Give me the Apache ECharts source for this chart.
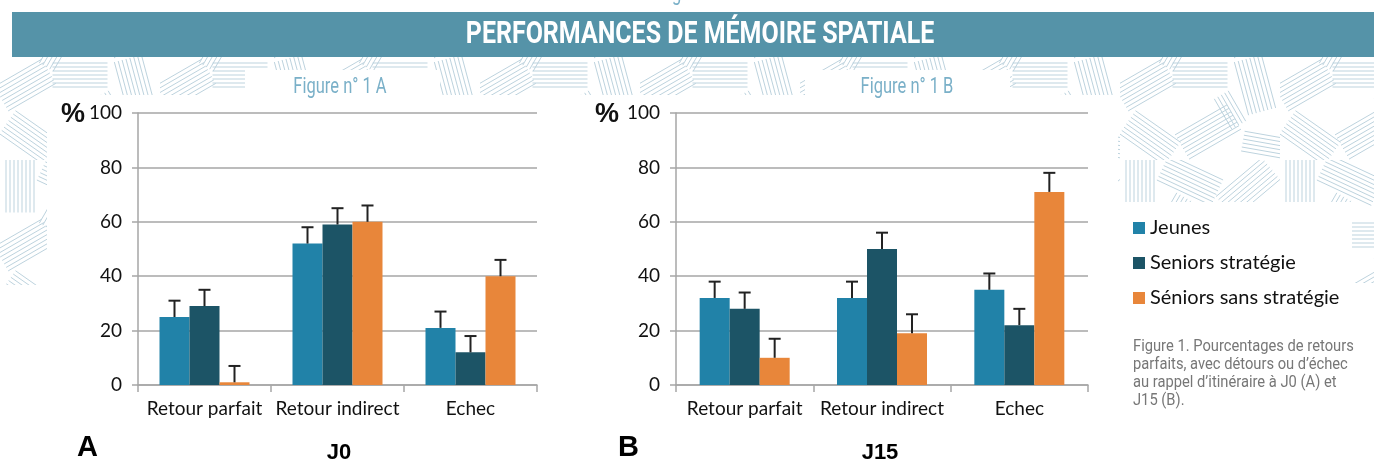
<!DOCTYPE html>
<html>
<head>
<meta charset="utf-8">
<script src="https://cdn.jsdelivr.net/npm/echarts@6/dist/echarts.min.js"></script>
<style>
    html, body { margin: 0; padding: 0; background: #fff; }
    #chart { width: 1374px; height: 475px; }
</style>
</head>
<body>
<div id="chart"></div>
<script>
// donnees
var categories = ['Retour parfait', 'Retour indirect', 'Echec'];
var groups = ['Jeunes', 'Seniors stratégie', 'Séniors sans stratégie'];
var yTicks = [0, 20, 40, 60, 80, 100];

// J0 (figure A)
var j0Jeunes = [25, 52, 21];
var j0Seniors = [29, 59, 12];
var j0SansStrat = [1, 60, 40];
var j0JeunesErr = [31, 58, 27];
var j0SeniorsErr = [35, 65, 18];
var j0SansStratErr = [7, 66, 46];

// J15 (figure B)
var j15Jeunes = [32, 32, 35];
var j15Seniors = [28, 50, 22];
var j15SansStrat = [10, 19, 71];
var j15JeunesErr = [38, 38, 41];
var j15SeniorsErr = [34, 56, 28];
var j15SansStratErr = [17, 26, 78];

var colors = ['#2182a8', '#1c5466', '#e8863a'];
var gridCol = '#a6a6a6';
var barW = 30;
var condFont = 'Roboto';

// motif de hachures pour le fond decoratif
function makePattern() {
    var c = document.createElement('canvas');
    c.width = 160; c.height = 160;
    var ctx = c.getContext('2d');
    ctx.fillStyle = '#fff';
    ctx.fillRect(0, 0, 160, 160);
    ctx.strokeStyle = '#bdd3de';
    ctx.lineWidth = 1;
    function hatch(cx, cy, len, deg, n, gap) {
        var a = deg * Math.PI / 180;
        var dx = Math.cos(a), dy = Math.sin(a);
        for (var k = 0; k < n; k++) {
            var o = (k - (n - 1) / 2) * gap;
            var px = cx - dy * o, py = cy + dx * o;
            ctx.beginPath();
            ctx.moveTo(px - dx * len / 2, py - dy * len / 2);
            ctx.lineTo(px + dx * len / 2, py + dy * len / 2);
            ctx.stroke();
        }
    }
    hatch(20, 25, 55, 90, 8, 4);
    hatch(70, 20, 60, 25, 8, 4);
    hatch(128, 28, 60, 140, 8, 4);
    hatch(25, 85, 55, -30, 8, 4);
    hatch(80, 75, 55, 0, 7, 4);
    hatch(135, 85, 55, 75, 8, 4);
    hatch(30, 138, 55, 35, 8, 4);
    hatch(88, 132, 60, 150, 8, 4);
    hatch(145, 145, 45, 10, 6, 4);
    hatch(55, 52, 35, 120, 5, 4);
    hatch(110, 110, 35, 60, 5, 4);
    return c;
}
var pat = { image: makePattern(), repeat: 'repeat' };

function errSeries(name, xi, vals, tops, off) {
    return {
        name: name,
        type: 'custom',
        xAxisIndex: xi,
        yAxisIndex: xi,
        z: 5,
        silent: true,
        encode: { x: 0, y: [1, 2] },
        data: vals.map(function (v, i) { return [i, v, tops[i]]; }),
        renderItem: function (params, api) {
            var c = api.value(0);
            var p0 = api.coord([c, api.value(1)]);
            var p1 = api.coord([c, api.value(2)]);
            var x = p0[0] + off;
            var st = { stroke: '#222', lineWidth: 2 };
            return {
                type: 'group',
                children: [
                    { type: 'line', shape: { x1: x, y1: p0[1], x2: x, y2: p1[1] }, style: st },
                    { type: 'line', shape: { x1: x - 6, y1: p1[1], x2: x + 6, y2: p1[1] }, style: st }
                ]
            };
        }
    };
}

function barSeries(name, xi, data, color) {
    return {
        name: name,
        type: 'bar',
        xAxisIndex: xi,
        yAxisIndex: xi,
        barWidth: barW,
        barGap: '0%',
        itemStyle: { color: color },
        data: data
    };
}

function xAxisDef(gi) {
    return {
        type: 'category',
        gridIndex: gi,
        data: categories,
        axisLine: { lineStyle: { color: gridCol, width: 1.5 } },
        axisTick: { show: true, length: 7, lineStyle: { color: gridCol, width: 1.5 } },
        axisLabel: { color: '#111', fontSize: 19, fontFamily: 'Lato', margin: 14, interval: 0 }
    };
}

function yAxisDef(gi) {
    return {
        type: 'value',
        gridIndex: gi,
        min: yTicks[0],
        max: yTicks[yTicks.length - 1],
        interval: 20,
        axisLine: { show: true, lineStyle: { color: gridCol, width: 1.5 } },
        axisTick: { show: true, length: 6, lineStyle: { color: gridCol, width: 1.5 } },
        splitLine: { lineStyle: { color: gridCol, width: 1.5 } },
        axisLabel: { color: '#111', fontSize: 19, fontFamily: 'Lato', margin: 16 }
    };
}

var chart = echarts.init(document.getElementById('chart'));

var option = {
    backgroundColor: '#fff',
    animation: false,
    grid: [
        { left: 138, top: 113, width: 399, height: 272 },
        { left: 676, top: 113, width: 412, height: 272 }
    ],
    xAxis: [xAxisDef(0), xAxisDef(1)],
    yAxis: [yAxisDef(0), yAxisDef(1)],
    legend: {
        data: groups,
        orient: 'vertical',
        left: 1128,
        top: 213,
        icon: 'rect',
        itemWidth: 12,
        itemHeight: 12,
        itemGap: 15,
        selectedMode: false,
        textStyle: { color: '#111', fontSize: 20, fontFamily: 'Lato', lineHeight: 18 }
    },
    graphic: [
        // bandeau du titre
        { type: 'rect', z: -10, shape: { x: 12, y: 12, width: 1362, height: 45 }, style: { fill: '#5593a8' } },
        { type: 'text', z: -5, x: 700, y: 35, scaleX: 0.78,
          style: { text: 'PERFORMANCES DE MÉMOIRE SPATIALE', fill: '#fff', fontSize: 32, fontWeight: 'bold',
                   fontFamily: condFont, align: 'center', verticalAlign: 'middle' } },
        { type: 'text', z: -5, x: 698, y: 5, scaleX: 0.75,
          style: { text: 'Figure n° 1', fill: '#7ab0c8', fontSize: 22, fontFamily: condFont,
                   align: 'center', verticalAlign: 'bottom' } },
        // fond hachure
        { type: 'rect', z: -20, shape: { x: 0, y: 57, width: 1374, height: 38 }, style: { fill: pat } },
        { type: 'rect', z: -20, shape: { x: 0, y: 57, width: 47, height: 228 }, style: { fill: pat } },
        { type: 'rect', z: -20, shape: { x: 1118, y: 57, width: 256, height: 145 }, style: { fill: pat } },
        { type: 'rect', z: -20, shape: { x: 1352, y: 57, width: 22, height: 226 }, style: { fill: pat } },
        { type: 'rect', z: -15, shape: { x: 245, y: 70, width: 195, height: 30 }, style: { fill: '#fff' } },
        { type: 'rect', z: -15, shape: { x: 805, y: 70, width: 205, height: 30 }, style: { fill: '#fff' } },
        // sous-titres
        { type: 'text', x: 340, y: 87, scaleX: 0.75,
          style: { text: 'Figure n° 1 A', fill: '#7ab0c8', fontSize: 22, fontFamily: condFont,
                   align: 'center', verticalAlign: 'middle' } },
        { type: 'text', x: 907, y: 87, scaleX: 0.75,
          style: { text: 'Figure n° 1 B', fill: '#7ab0c8', fontSize: 22, fontFamily: condFont,
                   align: 'center', verticalAlign: 'middle' } },
        // unites et reperes
        { type: 'text', x: 61, y: 115, style: { text: '%', fill: '#111', fontSize: 27, fontWeight: 'bold',
          fontFamily: 'Liberation Sans', verticalAlign: 'middle' } },
        { type: 'text', x: 595, y: 115, style: { text: '%', fill: '#111', fontSize: 27, fontWeight: 'bold',
          fontFamily: 'Liberation Sans', verticalAlign: 'middle' } },
        { type: 'text', x: 77, y: 448, style: { text: 'A', fill: '#000', fontSize: 29, fontWeight: 'bold',
          fontFamily: 'Liberation Sans', verticalAlign: 'middle' } },
        { type: 'text', x: 618, y: 448, style: { text: 'B', fill: '#000', fontSize: 29, fontWeight: 'bold',
          fontFamily: 'Liberation Sans', verticalAlign: 'middle' } },
        { type: 'text', x: 339, y: 453, style: { text: 'J0', fill: '#000', fontSize: 22, fontWeight: 'bold',
          fontFamily: 'Liberation Sans', align: 'center', verticalAlign: 'middle' } },
        { type: 'text', x: 880, y: 453, style: { text: 'J15', fill: '#000', fontSize: 22, fontWeight: 'bold',
          fontFamily: 'Liberation Sans', align: 'center', verticalAlign: 'middle' } },
        // legende de la figure
        { type: 'text', x: 1133, y: 338, scaleX: 0.92,
          style: { text: 'Figure 1. Pourcentages de retours\nparfaits, avec détours ou d\u2019échec\nau rappel d\u2019itinéraire à J0 (A) et\nJ15 (B).',
                   fill: '#777', fontSize: 16, lineHeight: 18, fontFamily: condFont } }
    ],
    series: [
        barSeries(groups[0], 0, j0Jeunes, colors[0]),
        barSeries(groups[1], 0, j0Seniors, colors[1]),
        barSeries(groups[2], 0, j0SansStrat, colors[2]),
        barSeries(groups[0], 1, j15Jeunes, colors[0]),
        barSeries(groups[1], 1, j15Seniors, colors[1]),
        barSeries(groups[2], 1, j15SansStrat, colors[2]),
        errSeries('errA1', 0, j0Jeunes, j0JeunesErr, -barW),
        errSeries('errA2', 0, j0Seniors, j0SeniorsErr, 0),
        errSeries('errA3', 0, j0SansStrat, j0SansStratErr, barW),
        errSeries('errB1', 1, j15Jeunes, j15JeunesErr, -barW),
        errSeries('errB2', 1, j15Seniors, j15SeniorsErr, 0),
        errSeries('errB3', 1, j15SansStrat, j15SansStratErr, barW)
    ]
};

chart.setOption(option);
</script>
</body>
</html>
